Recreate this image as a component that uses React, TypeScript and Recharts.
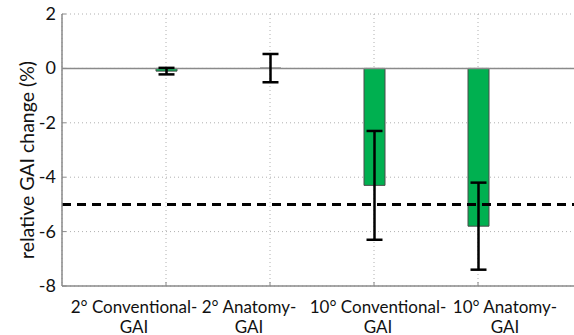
import React from "react";
import { BarChart, Bar, XAxis, YAxis, CartesianGrid, ReferenceLine, ErrorBar } from "recharts";

const categories = ["2° Conventional-GAI", "2° Anatomy-GAI", "10° Conventional-GAI", "10° Anatomy-GAI"];
const labelLine1 = ["2° Conventional-", "2° Anatomy-", "10° Conventional-", "10° Anatomy-"];
const labelLine2 = ["GAI", "GAI", "GAI", "GAI"];
const meanChange = [-0.1, 0.01, -4.3, -5.8];
const errChange = [0.12, 0.52, 2.0, 1.6];
const yTicks = [-8, -6, -4, -2, 0, 2];
const threshold = -5;

// layout only: horizontal shift of each category label relative to its tick
const labelShift = [-32, -21, 4, 27];

const data = categories.map((c, i) => ({
  name: c,
  value: meanChange[i],
  err: errChange[i],
}));

const FONT = "Lato, 'Open Sans', sans-serif";
const AXIS = "#8a8a8a";

const YTick = (props: any) => {
  const { x, y, payload } = props;
  return (
    <g>
      <line x1={x} x2={x + 4} y1={y} y2={y} stroke={AXIS} strokeWidth={1} />
      <text x={x - 6} y={y} dy={6} textAnchor="end" fontFamily={FONT} fontSize={18} fill="#111">
        {payload.value}
      </text>
    </g>
  );
};

const XTick = (props: any) => {
  const { x, y, index } = props;
  const tx = x + labelShift[index];
  return (
    <g>
      <line x1={x} x2={x} y1={y} y2={y - 4} stroke={AXIS} strokeWidth={1} />
      <text x={tx} y={y + 27} textAnchor="middle" fontFamily={FONT} fontSize={17} fill="#111">
        {labelLine1[index]}
      </text>
      <text x={tx} y={y + 47} textAnchor="middle" fontFamily={FONT} fontSize={17} fill="#111">
        {labelLine2[index]}
      </text>
    </g>
  );
};

const TopTick = (props: any) => {
  const { x, y } = props;
  return <line x1={x} x2={x} y1={y} y2={y + 4} stroke={AXIS} strokeWidth={1} />;
};

const YLabel = () => (
  <text
    x={34}
    y={160}
    transform="rotate(-90 34 160)"
    textAnchor="middle"
    fontFamily={FONT}
    fontSize={19.5}
    fill="#111"
  >
    relative GAI change (%)
  </text>
);

export default function App() {
  return (
    <div style={{ position: "fixed", left: 0, top: 0, width: 574, height: 335, overflow: "hidden", background: "#fff" }}>
      <BarChart width={590} height={335} data={data} margin={{ top: 14, right: 8, bottom: 0, left: 0 }}>
        <CartesianGrid stroke="#b0b0b0" strokeDasharray="1 3" strokeWidth={1} />
        <XAxis
          dataKey="name"
          height={49}
          padding={{ left: 52, right: 52 }}
          axisLine={{ stroke: AXIS, strokeWidth: 1.5 }}
          tickLine={false}
          tickSize={0}
          tickMargin={0}
          tick={<XTick />}
          interval={0}
        />
        <XAxis
          xAxisId="top"
          orientation="top"
          dataKey="name"
          height={0}
          padding={{ left: 52, right: 52 }}
          axisLine={{ stroke: AXIS, strokeWidth: 1.5 }}
          tickLine={false}
          tickSize={0}
          tickMargin={0}
          tick={<TopTick />}
          interval={0}
        />
        <YAxis
          width={62}
          domain={[-8, 2]}
          ticks={yTicks}
          interval={0}
          axisLine={{ stroke: AXIS, strokeWidth: 1.5 }}
          tickLine={false}
          tickSize={0}
          tickMargin={0}
          tick={<YTick />}
          label={{ content: () => <YLabel /> }}
        />
        <ReferenceLine y={0} stroke={AXIS} strokeWidth={1.5} />
        <Bar dataKey="value" fill="#00b050" stroke="#4a4a4a" strokeWidth={1} barSize={21} isAnimationActive={false}>
          <ErrorBar dataKey="err" stroke="#000" strokeWidth={2.5} width={8} />
        </Bar>
        <ReferenceLine y={threshold} stroke="#000" strokeWidth={3} strokeDasharray="9 6" />
      </BarChart>
    </div>
  );
}
